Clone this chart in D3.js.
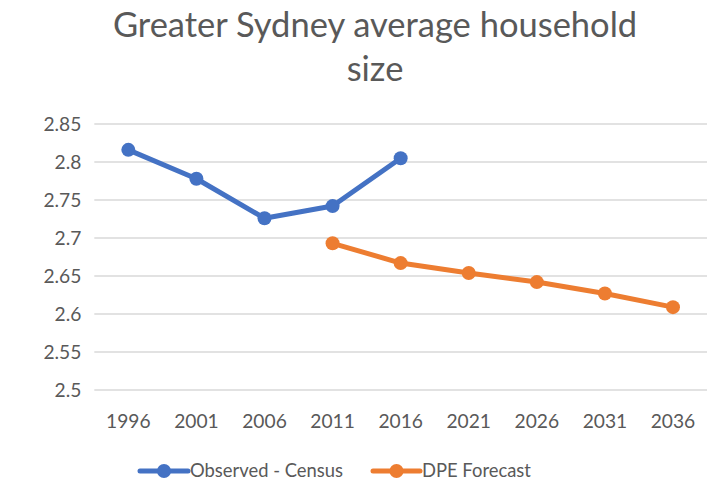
<!DOCTYPE html>
<html>
<head>
<meta charset="utf-8">
<script src="https://cdn.jsdelivr.net/npm/d3@7/dist/d3.min.js"></script>
<style>
  html, body { margin: 0; padding: 0; background: #fff; }
  svg { display: block; font-family: Lato, "Open Sans", sans-serif; }
</style>
</head>
<body>
<svg id="chart" width="717" height="485"></svg>
<script>
// Census years and forecast horizon
const years = ["1996", "2001", "2006", "2011", "2016", "2021", "2026", "2031", "2036"];
// Observed average household size (Census)
const observed = [2.816, 2.778, 2.726, 2.742, 2.805, null, null, null, null];
// DPE forecast average household size
const forecast = [null, null, null, 2.693, 2.667, 2.654, 2.642, 2.627, 2.609];
const yTicks = [2.5, 2.55, 2.6, 2.65, 2.7, 2.75, 2.8, 2.85];
const seriesNames = ["Observed - Census", "DPE Forecast"];
const colors = ["#4472C4", "#ED7D31"];

const svg = d3.select("#chart");
const plot = { left: 94.3, right: 707, top: 124, bottom: 390 };
const textColor = "#595959";
const tickFont = 19.2;

const x = d3.scaleBand().domain(years).range([plot.left, plot.right]);
const y = d3.scaleLinear().domain([2.5, 2.85]).range([plot.bottom, plot.top]);

// Title (two lines)
["Greater Sydney average household", "size"].forEach((t, i) => {
  svg.append("text")
    .attr("x", 375).attr("y", 37 + i * 44)
    .attr("text-anchor", "middle")
    .attr("font-size", 34.5).attr("fill", textColor)
    .text(t);
});

// Horizontal gridlines
svg.append("g").selectAll("line").data(yTicks).join("line")
  .attr("x1", plot.left).attr("x2", plot.right)
  .attr("y1", d => y(d)).attr("y2", d => y(d))
  .attr("stroke", "#D9D9D9").attr("stroke-width", 1.3);

// Y axis labels
const yAxis = d3.axisLeft(y).tickValues(yTicks).tickSize(0).tickPadding(0)
  .tickFormat(d => String(+d.toFixed(2)));
const gy = svg.append("g").attr("transform", `translate(${plot.left - 13},0)`).call(yAxis);
gy.select(".domain").remove();
gy.selectAll("text").attr("font-size", tickFont).attr("fill", textColor)
  .attr("font-family", "Lato, 'Open Sans', sans-serif");

// X axis labels
const xAxis = d3.axisBottom(x).tickSize(0).tickPadding(0);
const gx = svg.append("g").attr("transform", `translate(0,${plot.bottom + 24})`).call(xAxis);
gx.select(".domain").remove();
gx.selectAll("text").attr("font-size", tickFont).attr("fill", textColor)
  .attr("font-family", "Lato, 'Open Sans', sans-serif");

// Series lines and markers
const cx = d => x(d) + x.bandwidth() / 2;
[observed, forecast].forEach((vals, i) => {
  const pts = years.map((yr, j) => ({ yr, v: vals[j] })).filter(p => p.v != null);
  const line = d3.line().x(p => cx(p.yr)).y(p => y(p.v));
  svg.append("path").datum(pts)
    .attr("d", line).attr("fill", "none")
    .attr("stroke", colors[i]).attr("stroke-width", 5)
    .attr("stroke-linejoin", "round").attr("stroke-linecap", "round");
  svg.append("g").selectAll("circle").data(pts).join("circle")
    .attr("cx", p => cx(p.yr)).attr("cy", p => y(p.v))
    .attr("r", 7).attr("fill", colors[i]);
});

// Legend
const legendY = 471;
const legendItems = [{ x0: 140, x1: 188, tx: 190 }, { x0: 373, x1: 420, tx: 422 }];
legendItems.forEach((it, i) => {
  const g = svg.append("g");
  g.append("line").attr("x1", it.x0).attr("x2", it.x1)
    .attr("y1", legendY).attr("y2", legendY)
    .attr("stroke", colors[i]).attr("stroke-width", 5).attr("stroke-linecap", "round");
  g.append("circle").attr("cx", (it.x0 + it.x1) / 2).attr("cy", legendY)
    .attr("r", 7).attr("fill", colors[i]);
  g.append("text").attr("x", it.tx).attr("y", legendY)
    .attr("dy", "0.35em").attr("font-size", 18.4).attr("fill", textColor)
    .text(seriesNames[i]);
});
</script>
</body>
</html>
